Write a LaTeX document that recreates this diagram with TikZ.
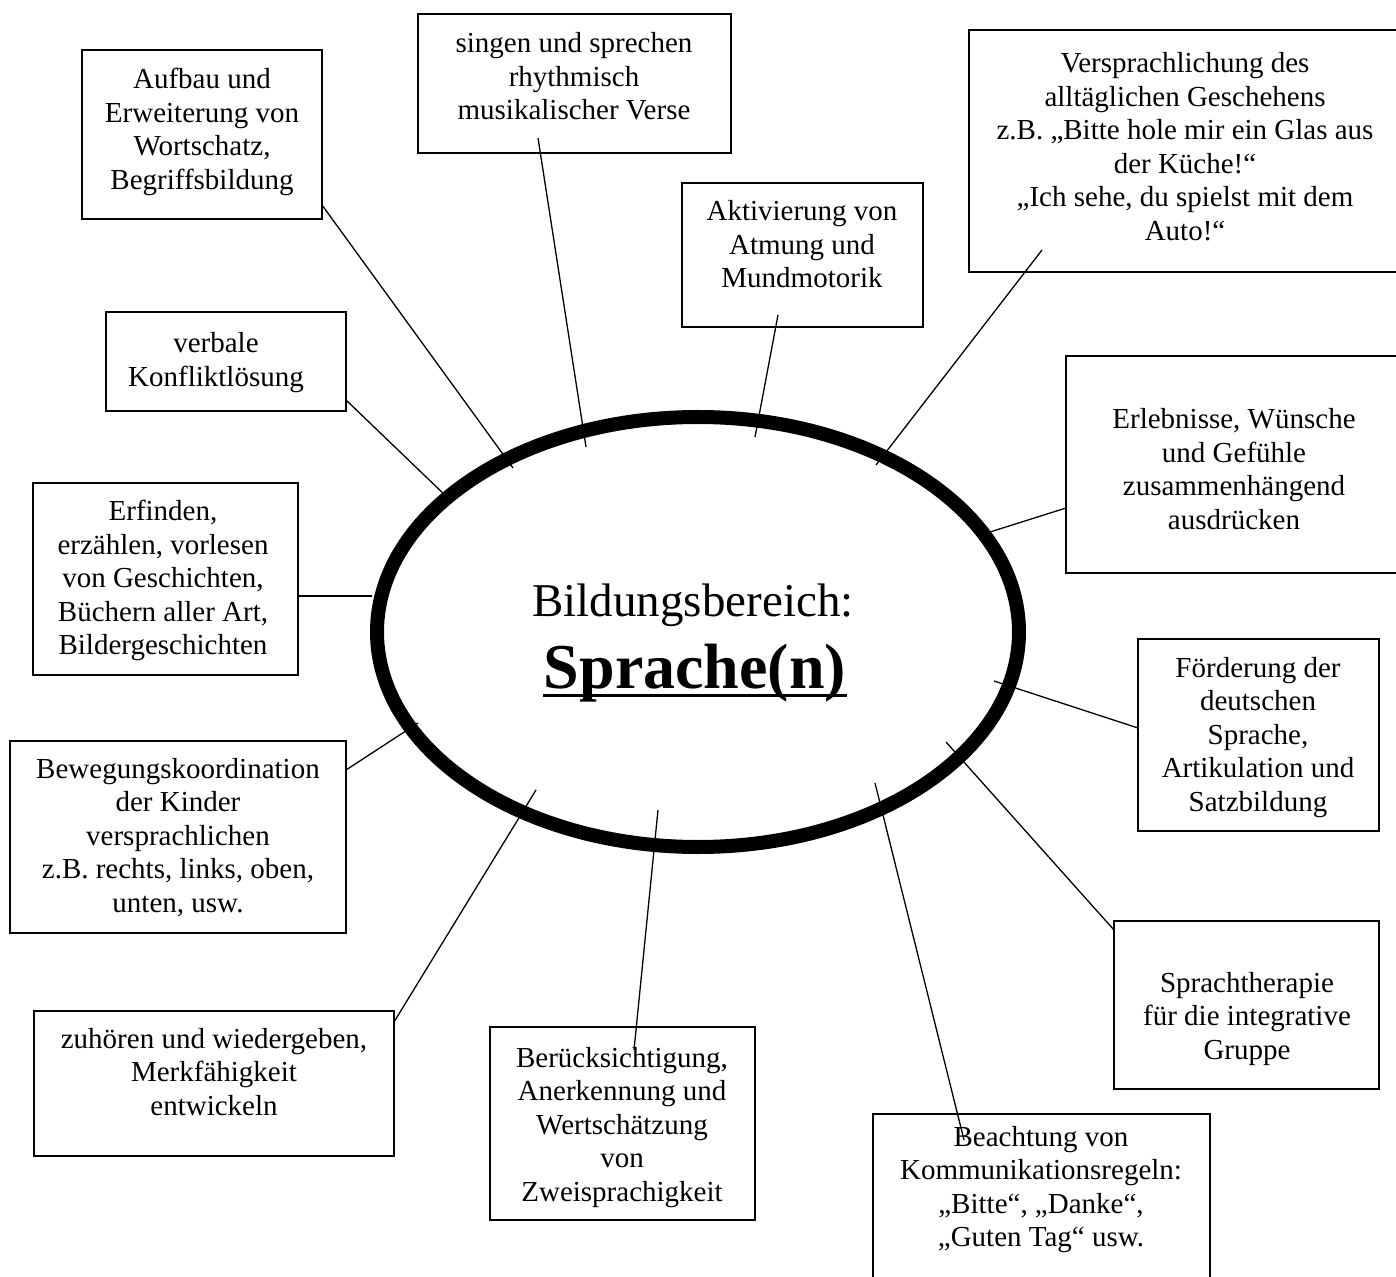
\documentclass[tikz,border=0pt]{standalone}
\usepackage{fontspec}
\setmainfont{Liberation Serif}
\usetikzlibrary{fit,shapes.geometric}
\newcommand{\mlines}[1]{\begin{tabular}[t]{@{}c@{}}#1\end{tabular}}
\begin{document}
\begin{tikzpicture}[x=0.5pt,y=-0.5pt,
  boxx/.style={draw,line width=0.9pt,rectangle,inner sep=0pt},
  txt/.style={anchor=base,inner sep=0pt,font=\fontsize{14.5}{16.75}\selectfont},
  conn/.style={line width=0.65pt}]
\useasboundingbox (0,0) rectangle (1396,1277);

% ellipse
\node[draw,ellipse,line width=7pt,minimum width=321pt,minimum height=215pt,inner sep=0pt] (ell) at (698,632) {};
\node[anchor=base,inner sep=0pt,font=\fontsize{23.5}{28}\selectfont] (bb) at (693,617) {Bildungsbereich:};
\node[anchor=base,inner sep=0pt,font=\fontsize{32}{38}\selectfont\bfseries] (sp) at (695,688) {Sprache(n)};
\draw[line width=1.5pt] ([yshift=-3.5pt]sp.base west) -- ([yshift=-3.5pt]sp.base east);

% boxes
\node[boxx,fit={(82,50) (322,219)}] (b1) {};
\node[txt] (t1) at (202,89) {\mlines{Aufbau und\\Erweiterung von\\Wortschatz,\\Begriffsbildung}};
\node[boxx,fit={(418,14) (731,153)}] (b2) {};
\node[txt] (t2) at (574,53) {\mlines{singen und sprechen\\rhythmisch\\musikalischer Verse}};
\node[boxx,fit={(682,183) (923,327)}] (b3) {};
\node[txt] (t3) at (802,221) {\mlines{Aktivierung von\\Atmung und\\Mundmotorik}};
\node[boxx,fit={(969,30) (1402,272)}] (b4) {};
\node[txt] (t4) at (1185,73) {\mlines{Versprachlichung des\\alltäglichen Geschehens\\z.B. „Bitte hole mir ein Glas aus\\der Küche!“\\„Ich sehe, du spielst mit dem\\Auto!“}};
\node[boxx,fit={(106,312) (346,411)}] (b5) {};
\node[txt] (t5) at (216,353) {\mlines{verbale\\Konfliktlösung}};
\node[boxx,fit={(1066,356) (1403,573)}] (b6) {};
\node[txt] (t6) at (1234,429) {\mlines{Erlebnisse, Wünsche\\und Gefühle\\zusammenhängend\\ausdrücken}};
\node[boxx,fit={(33,483) (298,675)}] (b7) {};
\node[txt] (t7) at (163,521) {\mlines{Erfinden,\\erzählen, vorlesen\\von Geschichten,\\Büchern aller Art,\\Bildergeschichten}};
\node[boxx,fit={(1138,639) (1379,831)}] (b8) {};
\node[txt] (t8) at (1258,677) {\mlines{Förderung der\\deutschen\\Sprache,\\Artikulation und\\Satzbildung}};
\node[boxx,fit={(10,741) (346,933)}] (b9) {};
\node[txt] (t9) at (178,778) {\mlines{Bewegungskoordination\\der Kinder\\versprachlichen\\z.B. rechts, links, oben,\\unten, usw.}};
\node[boxx,fit={(1114,921) (1379,1089)}] (b10) {};
\node[txt] (t10) at (1247,992) {\mlines{Sprachtherapie\\für die integrative\\Gruppe}};
\node[boxx,fit={(34,1011) (394,1156)}] (b11) {};
\node[txt] (t11) at (214,1048) {\mlines{zuhören und wiedergeben,\\Merkfähigkeit\\entwickeln}};
\node[boxx,fit={(490,1027) (755,1220)}] (b12) {};
\node[txt] (t12) at (622,1067) {\mlines{Berücksichtigung,\\Anerkennung und\\Wertschätzung\\von\\Zweisprachigkeit}};
\node[boxx,fit={(873,1114) (1210,1295)}] (b13) {};
\node[txt] (t13) at (1041,1146) {\mlines{Beachtung von\\Kommunikationsregeln:\\„Bitte“, „Danke“,\\„Guten Tag“ usw.}};

% connector ends
\coordinate (s1) at (322,205);  \coordinate (e1) at (513,468);
\coordinate (s2) at (538,138);  \coordinate (e2) at (586,447);
\coordinate (s3) at (778,315);  \coordinate (e3) at (755,437);
\coordinate (s4) at (1042,250); \coordinate (e4) at (876,465);
\coordinate (s5) at (346,400);  \coordinate (e5) at (448,498);
\coordinate (s6) at (1066,508); \coordinate (e6) at (990,532);
\coordinate (s7) at (298,596);  \coordinate (e7) at (372,596);
\coordinate (s8) at (1138,728); \coordinate (e8) at (994,681);
\coordinate (s9) at (346,770);  \coordinate (e9) at (418,723);
\coordinate (s10) at (1114,930); \coordinate (e10) at (946,742);
\coordinate (s11) at (394,1022); \coordinate (e11) at (536,790);
\coordinate (s12) at (634,1050); \coordinate (e12) at (658,810);
\coordinate (s13) at (964,1140); \coordinate (e13) at (875,783);

\foreach \i in {1,...,13} {\draw[conn] (s\i) -- (e\i);}
\end{tikzpicture}
\end{document}
